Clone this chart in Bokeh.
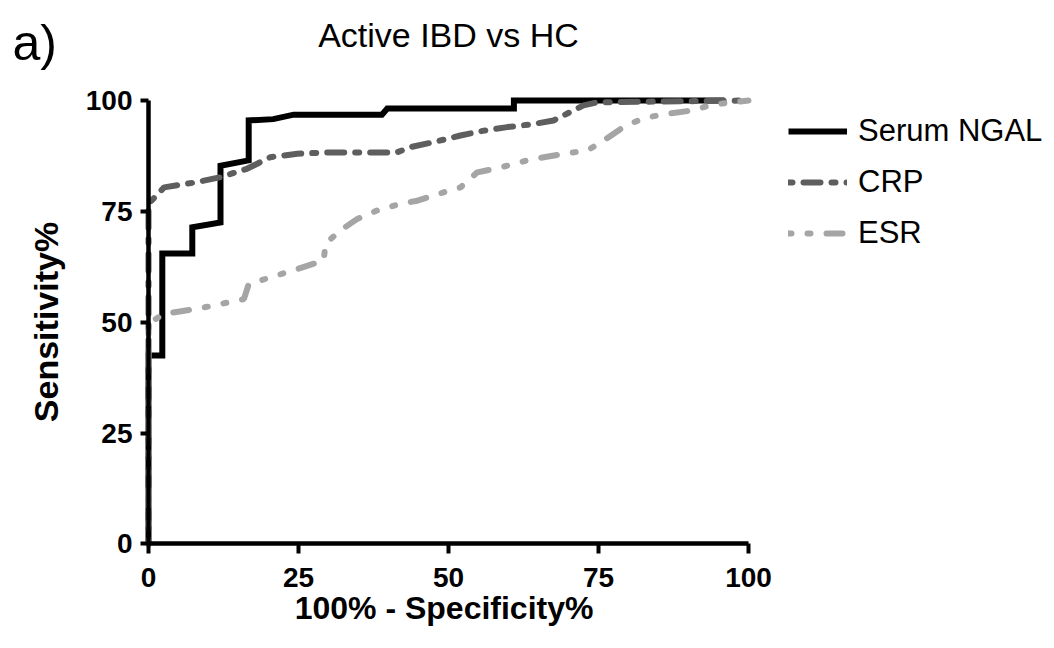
from bokeh.plotting import figure
from bokeh.models import Legend, LegendItem, Label, FixedTicker, Range1d
from bokeh.embed import file_html
from bokeh.resources import INLINE

# ROC data (100% - specificity, sensitivity)
ngal_x = [0, 0, 2.3, 2.3, 7.3, 7.3, 12, 12, 16.7, 16.7, 20.8, 24.2, 38.9, 39.8, 60.9, 60.9, 96]
ngal_y = [0, 42.5, 42.5, 65.5, 65.5, 71.4, 72.5, 85.3, 86.5, 95.5, 95.8, 96.8, 96.8, 98.2, 98.2, 100, 100]

crp_x = [0, 0, 2.6, 8.1, 12, 16.4, 20.3, 24.8, 30.3, 41.4, 43.7, 47.5, 52, 55.9, 59.8, 64.2, 67.5, 72.5, 74.8, 100]
crp_y = [0, 76.7, 80.4, 81.6, 82.7, 84.6, 87.2, 88, 88.3, 88.3, 89.5, 90.6, 92.1, 93.2, 94, 94.7, 95.5, 98.9, 99.6, 100]

esr_x = [0, 0, 2.6, 8.1, 12, 15.9, 16.7, 20.3, 24.8, 29.2, 29.5, 32, 34.8, 38.1, 42, 44.8, 49.2, 52, 54.8,
         58.7, 63.1, 65.9, 69.8, 73.1, 75.9, 78.7, 80.9, 83.1, 86.5, 90.3, 94.2, 100]
esr_y = [0, 49.7, 51.9, 53, 54.1, 55.2, 58.6, 60.1, 62, 63.9, 67.7, 70.7, 73.3, 75.2, 76.7, 77.4, 79.3, 80.4, 83.8,
         84.9, 86.5, 87.2, 88.1, 88.7, 91, 93.6, 95.1, 96.2, 97, 97.7, 99.1, 100]

series_names = ["Serum NGAL", "CRP", "ESR"]
ticks = [0, 25, 50, 75, 100]

FONT = "Liberation Sans"
W, H = 1050, 640
# axis frame: x 0..100 -> px 148..748 ; y 0..100 -> px 543.4..100
XPX = 6.0
YPX = 443.4 / 100.0
x0 = -148 / XPX
y1 = 100 + 100 / YPX
y0 = -(H - 543.4) / YPX

p = figure(width=W, height=H, x_range=Range1d(x0, x0 + W / XPX), y_range=Range1d(y0, y1),
           output_backend="svg", toolbar_location=None,
           min_border_left=0, min_border_right=0, min_border_top=0, min_border_bottom=0)
p.title.visible = False
p.outline_line_color = None
p.xgrid.visible = False
p.ygrid.visible = False
p.background_fill_color = "white"
p.border_fill_color = "white"

r1 = p.line(ngal_x, ngal_y, line_color="black", line_width=6, line_join="miter")
r2 = p.line(crp_x, crp_y, line_color="#5e5e5e", line_width=6, line_dash="4 11 17 11", line_cap="round")
r3 = p.line(esr_x, esr_y, line_color="#a5a5a5", line_width=6, line_dash="3 16 3 16 16 16", line_cap="round")

for ax, tick_out in ((p.xaxis[0], 10), (p.yaxis[0], 8)):
    ax.ticker = FixedTicker(ticks=ticks)
    ax.bounds = (0, 100)
    ax.fixed_location = 0
    ax.axis_line_width = 4.5
    ax.axis_line_color = "black"
    ax.major_tick_line_width = 4
    ax.major_tick_line_color = "black"
    ax.major_tick_out = tick_out
    ax.major_tick_in = 0
    ax.minor_tick_line_color = None
    ax.major_label_text_font = FONT
    ax.major_label_text_font_style = "bold"
    ax.major_label_text_font_size = "28px"
    ax.major_label_text_color = "black"
    ax.axis_label_text_font = FONT
    ax.axis_label_text_font_style = "bold"
    ax.axis_label_text_color = "black"

p.xaxis.axis_label = "100%  - Specificity%"
p.xaxis.axis_label_text_font_size = "32px"
p.xaxis.major_label_standoff = 14
p.xaxis.axis_label_standoff = 0
p.yaxis.axis_label = "Sensitivity%"
p.yaxis.axis_label_text_font_size = "34px"
p.yaxis.major_label_standoff = 8
p.yaxis.axis_label_standoff = 18

legend = Legend(items=[LegendItem(label=series_names[0], renderers=[r1]),
                       LegendItem(label=series_names[1], renderers=[r2]),
                       LegendItem(label=series_names[2], renderers=[r3])],
                location=(788, H - 253), padding=0, margin=0, spacing=11,
                glyph_width=59, glyph_height=40, label_height=40, label_standoff=11,
                label_text_font=FONT, label_text_font_size="31px", label_text_color="black",
                border_line_color=None, background_fill_alpha=0)
p.add_layout(legend, "center")

p.add_layout(Label(x=448, y=H - 34, x_units="screen", y_units="screen", text="Active IBD vs HC",
                   text_align="center", text_baseline="alphabetic", text_font=FONT,
                   text_font_size="34px", text_color="black"))
p.add_layout(Label(x=12, y=H - 42, x_units="screen", y_units="screen", text="a)",
                   text_align="left", text_baseline="alphabetic", text_font=FONT,
                   text_font_size="50px", text_color="black"))

open("out.html", "w").write(file_html(p, INLINE))
